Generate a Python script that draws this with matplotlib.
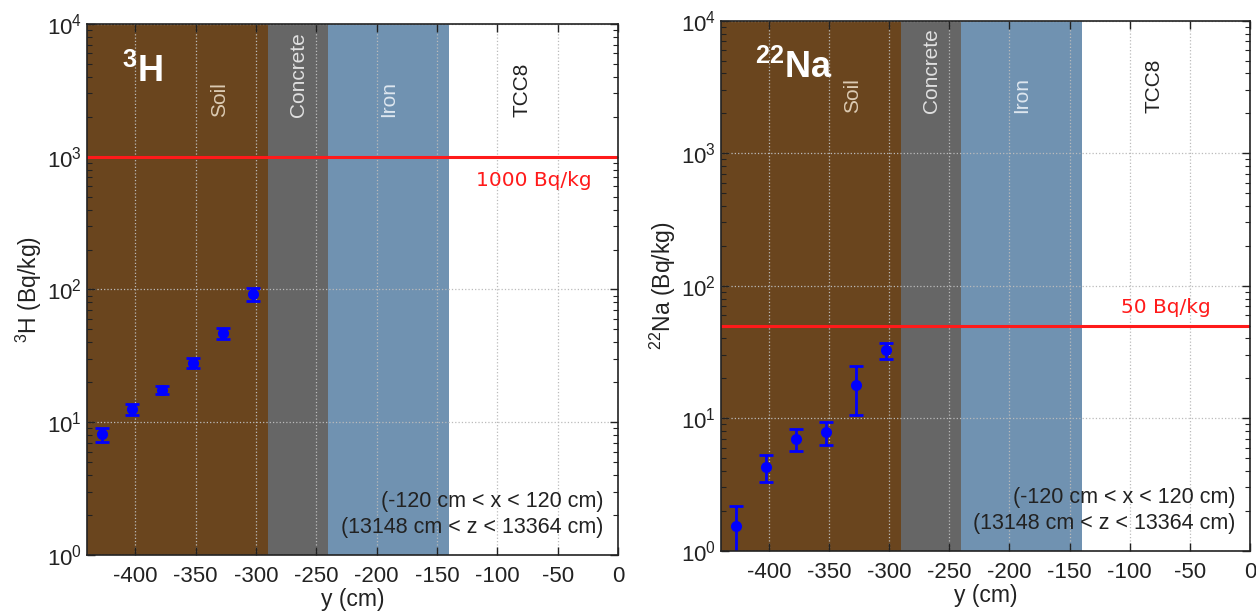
import numpy as np
import matplotlib
matplotlib.use("Agg")
import matplotlib.pyplot as plt
from matplotlib.ticker import LogLocator, NullFormatter

plt.rcParams['font.family'] = ['Liberation Sans', 'DejaVu Sans']
plt.rcParams['mathtext.fontset'] = 'custom'
plt.rcParams['mathtext.rm'] = 'Liberation Sans'
plt.rcParams['mathtext.bf'] = 'Liberation Sans:bold'
plt.rcParams['mathtext.it'] = 'Liberation Sans:italic'
plt.rcParams['axes.unicode_minus'] = False

# positions of the samples (cm)
y_pos = [-427.5, -402.5, -377.5, -352.5, -327.5, -302.5]

# activities (Bq/kg)
h3_val = [8.1, 12.5, 17.6, 28.0, 47.0, 92.0]
h3_err = [1.0, 1.2, 1.3, 2.5, 4.5, 10.0]
na22_val = [1.53, 4.3, 7.0, 7.8, 17.7, 32.5]
na22_err = [0.65, 1.0, 1.35, 1.5, 7.2, 4.6]

# material layers along y
layer_names = ['Soil', 'Concrete', 'Iron', 'TCC8']
layer_edges = [-440, -290, -240, -140, 0]
layer_colors = ['#6a451e', '#666666', '#7092b1', '#ffffff']
layer_text_colors = ['#dccbb3', '#e0e0e0', '#dde6ef', '#222222']
layer_text_x = [-330, -265, -190, -80]

panels = [
    dict(rect=[0.0693, 0.0976, 0.4228, 0.8634], vals=h3_val, errs=h3_err,
         tag=r'$^{\mathbf{3}}\mathbf{H}$', ylabel=r'$^{3}$H (Bq/kg)',
         limit=1000, limit_text='1000 Bq/kg', text_fac=0.66),
    dict(rect=[0.5738, 0.1046, 0.4214, 0.8618], vals=na22_val, errs=na22_err,
         tag=r'$^{\mathbf{22}}\mathbf{Na}$', ylabel=r'$^{22}$Na (Bq/kg)',
         limit=50, limit_text='50 Bq/kg', text_fac=1.38),
]

fig = plt.figure(figsize=(12.56, 6.15), dpi=100)

for p in panels:
    ax = fig.add_axes(p['rect'])
    ax.set_yscale('log')
    ax.set_xlim(-440, 0)
    ax.set_ylim(1, 1e4)

    for i in range(len(layer_names)):
        ax.axvspan(layer_edges[i], layer_edges[i + 1], color=layer_colors[i], lw=0, zorder=0)
        ax.text(layer_text_x[i], 2000, layer_names[i], rotation=90, ha='center', va='bottom',
                color=layer_text_colors[i], fontsize=15, zorder=3)

    ax.grid(True, which='major', color='#bbbbbb', linestyle=':', linewidth=0.9, zorder=1)
    ax.set_axisbelow(False)

    ax.axhline(p['limit'], color='#ff1a1a', lw=2.2, zorder=4)
    ax.text(-70, p['limit'] * p['text_fac'], p['limit_text'], color='#ff1a1a',
            ha='center', va='center', fontsize=14.5, family='DejaVu Sans', zorder=5)

    ax.errorbar(y_pos, p['vals'], yerr=p['errs'], fmt='o', color='#0000ff', ms=7,
                elinewidth=2, capsize=5, capthick=2, zorder=6, clip_on=True)

    ax.text(0.065, 0.91, p['tag'], transform=ax.transAxes, color='white', fontsize=26,
            ha='left', va='center', zorder=7)
    ax.text(0.972, 0.10, '(-120 cm < x < 120 cm)', transform=ax.transAxes,
            ha='right', va='center', fontsize=15.5, color='#222222', zorder=7)
    ax.text(0.972, 0.052, '(13148 cm < z < 13364 cm)', transform=ax.transAxes,
            ha='right', va='center', fontsize=15.5, color='#222222', zorder=7)

    ax.set_xticks([-400, -350, -300, -250, -200, -150, -100, -50, 0])
    ax.yaxis.set_major_locator(LogLocator(base=10, numticks=10))
    ax.yaxis.set_minor_locator(LogLocator(base=10, subs=np.arange(2, 10), numticks=10))
    ax.yaxis.set_minor_formatter(NullFormatter())
    ax.tick_params(which='both', direction='in', top=True, right=True, labelsize=16,
                   colors='#222222')
    ax.tick_params(which='major', length=6, width=1)
    ax.tick_params(which='minor', length=3.5, width=0.8)
    ax.tick_params(axis='x', pad=8)
    for s in ax.spines.values():
        s.set_linewidth(1.2)
        s.set_color('#222222')
        s.set_zorder(8)

    ax.set_xlabel('y (cm)', fontsize=16.5, color='#222222', labelpad=1)
    ax.set_ylabel(p['ylabel'], fontsize=16.5, color='#222222', labelpad=2)

fig.savefig('out.png', dpi=100)
